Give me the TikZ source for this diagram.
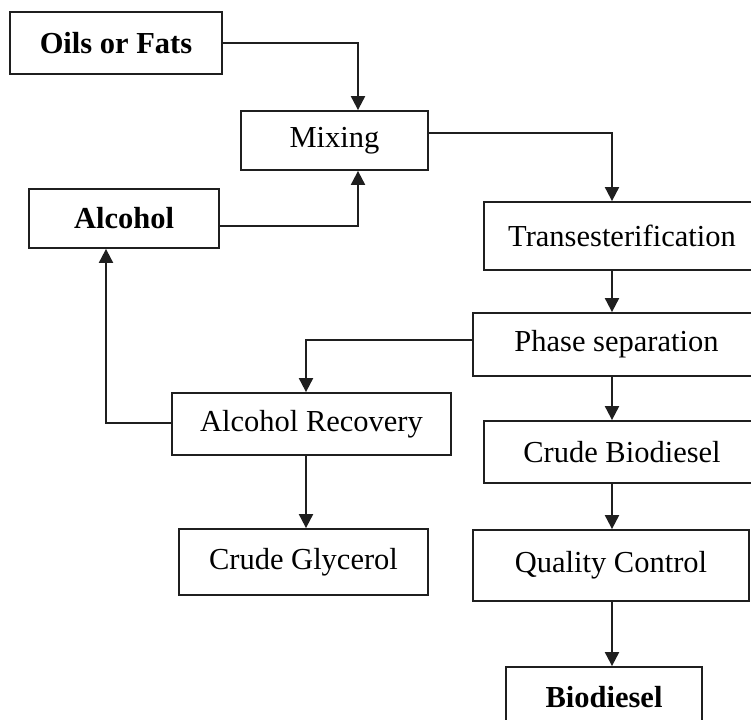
\documentclass[tikz,border=0pt]{standalone}
\usepackage{fontspec}
\setmainfont{Liberation Serif}
\usetikzlibrary{arrows.meta}
\begin{document}
\begin{tikzpicture}[x=1pt,y=-1pt,
  box/.style={draw=black!88, line width=1.8pt, inner sep=0pt, align=center,
    font=\fontsize{30.5}{34}\selectfont},
  bbox/.style={box, font=\fontsize{30.5}{34}\selectfont\bfseries},
  arr/.style={draw=black!88, line width=2pt, -{Triangle[length=14pt,width=14pt]}}]
\useasboundingbox (0,0) rectangle (751,719);
\clip (0,0) rectangle (751,719);
% columns
\coordinate (mc) at (358,0);
\coordinate (rc) at (612,0);
\coordinate (lc) at (306,0);
\coordinate (ac) at (106,0);
% nodes
\node[bbox, minimum width=212pt, minimum height=62pt] (oils) at (116,43) {Oils or Fats};
\node[box, minimum width=187pt, minimum height=59pt] (mix) at (334.5,140.5) {Mixing};
\node[bbox, minimum width=190pt, minimum height=59pt] (alc) at (124,218.5) {Alcohol};
\node[box, minimum width=276pt, minimum height=68pt] (tr) at (622,236) {Transesterification};
\node[box, minimum width=287pt, minimum height=63pt] (ph) at (616.5,344.5) {Phase separation};
\node[box, minimum width=279pt, minimum height=62pt] (ar) at (311.5,424) {Alcohol Recovery};
\node[box, minimum width=276pt, minimum height=62pt] (cb) at (622,452) {Crude Biodiesel};
\node[box, minimum width=249pt, minimum height=66pt] (cg) at (303.5,562) {Crude Glycerol};
\node[box, minimum width=276pt, minimum height=71pt] (qc) at (611,565.5) {Quality Control};
\node[bbox, minimum width=196pt, minimum height=60pt] (bio) at (604,697) {Biodiesel};
% connectors
\draw[arr] (oils.east) -| (mix.north -| mc);
\draw[arr] ([yshift=-7.5pt]alc.east) -| (mix.south -| mc);
\draw[arr] ([yshift=7.5pt]mix.east) -| (tr.north -| rc);
\draw[arr] (tr.south -| rc) -- (ph.north -| rc);
\draw[arr] ([yshift=4.5pt]ph.west) -| (ar.north -| lc);
\draw[arr] ([yshift=1pt]ar.west) -| (alc.south -| ac);
\draw[arr] (ar.south -| lc) -- (cg.north -| lc);
\draw[arr] (ph.south -| rc) -- (cb.north -| rc);
\draw[arr] (cb.south -| rc) -- (qc.north -| rc);
\draw[arr] (qc.south -| rc) -- (bio.north -| rc);
\end{tikzpicture}
\end{document}
